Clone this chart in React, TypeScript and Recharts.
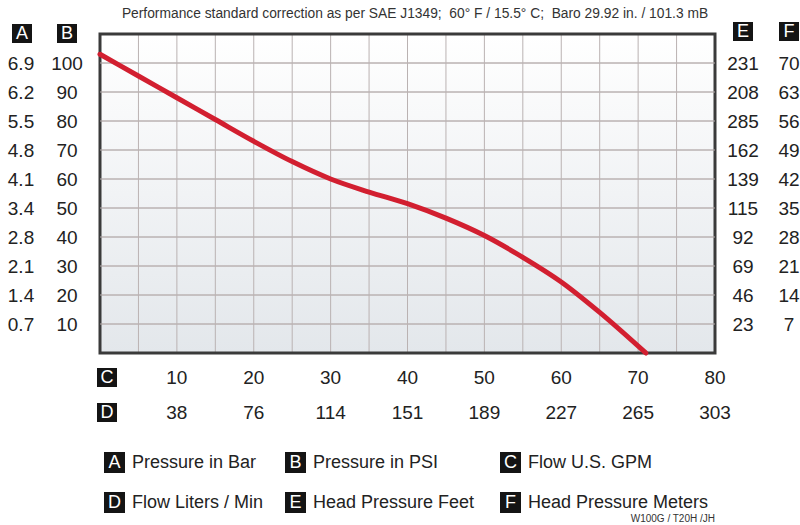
import { LineChart, Line, XAxis, YAxis, CartesianGrid, ReferenceArea, ReferenceLine } from "recharts";

// pump curve: flow (U.S. GPM) vs pressure (PSI)
const gpm = [0, 5, 10, 15, 20, 25, 30, 35, 40, 45, 50, 55, 60, 65, 71];
const psi = [103, 95.5, 88, 80.5, 73, 66, 60, 55.5, 51.5, 46.5, 40.5, 33, 24.5, 14, 0];

// tick labels
const gpmTicks = [10, 20, 30, 40, 50, 60, 70, 80];
const lpmLabels = ["38", "76", "114", "151", "189", "227", "265", "303"];
const psiTicks = [10, 20, 30, 40, 50, 60, 70, 80, 90, 100];
const barLabels = ["0.7", "1.4", "2.1", "2.8", "3.4", "4.1", "4.8", "5.5", "6.2", "6.9"];
const feetLabels = ["23", "46", "69", "92", "115", "139", "162", "285", "208", "231"];
const meterLabels = ["7", "14", "21", "28", "35", "42", "49", "56", "63", "70"];

// grid lines
const gridGpm = [0, 5, 10, 15, 20, 25, 30, 35, 40, 45, 50, 55, 60, 65, 70, 75, 80];
const gridPsi = [10, 20, 30, 40, 50, 60, 70, 80, 90, 100];

const legendItems = [
  { key: "A", text: "Pressure in Bar" },
  { key: "B", text: "Pressure in PSI" },
  { key: "C", text: "Flow U.S. GPM" },
  { key: "D", text: "Flow Liters / Min" },
  { key: "E", text: "Head Pressure Feet" },
  { key: "F", text: "Head Pressure Meters" },
];

const data = gpm.map((g, i) => ({ gpm: g, psi: psi[i] }));

const FONT = "Arial, 'Liberation Sans', sans-serif";
const TEXT = "#222";
const PLOT_W = 615;
const GRID = "#bab2b2";

const LetterBox = ({ letter, left, top, w = 20, h = 19 }: { letter: string; left: number; top: number; w?: number; h?: number }) => (
  <div
    style={{
      position: "absolute",
      left,
      top,
      width: w,
      height: h,
      background: "#141414",
      color: "#fff",
      fontFamily: FONT,
      fontSize: 18,
      lineHeight: `${h}px`,
      textAlign: "center",
    }}
  >
    {letter}
  </div>
);

const label = (x: number, y: number, v: string) => (
  <text x={x} y={y} textAnchor="middle" dominantBaseline="central" fontSize={19} fill={TEXT} fontFamily={FONT}>
    {v}
  </text>
);

const BottomTick = (props: any) => {
  const { x, y, index, payload } = props;
  return (
    <g>
      {label(x, y + 24, String(payload.value))}
      {label(x, y + 59, lpmLabels[index])}
    </g>
  );
};

// left axis draws A / B columns, and E / F columns on the far side of the plot
const SideTick = (props: any) => {
  const { x, y, index, payload } = props;
  return (
    <g>
      {label(x - 79, y, barLabels[index])}
      {label(x - 33, y, String(payload.value))}
      {label(x + PLOT_W + 28, y, feetLabels[index])}
      {label(x + PLOT_W + 74, y, meterLabels[index])}
    </g>
  );
};

export default function App() {
  return (
    <div style={{ position: "absolute", left: 0, top: 0, width: 800, height: 525, background: "#fff", overflow: "hidden" }}>
      {/* plot background */}
      <div
        style={{
          position: "absolute",
          left: 100,
          top: 34,
          width: 615,
          height: 319,
          background: "linear-gradient(180deg, #ffffff 0%, #e3e7eb 100%)",
        }}
      />
      <div style={{ position: "absolute", left: 0, top: 0 }}>
        <LineChart width={800} height={525} data={data} margin={{ top: 34, right: 85, bottom: 171, left: 99 }}>
          <CartesianGrid
            stroke={GRID}
            strokeWidth={1}
            fill="none"
            verticalValues={gridGpm}
            horizontalValues={gridPsi}
          />
          <XAxis
            dataKey="gpm"
            type="number"
            domain={[0, 80]}
            ticks={gpmTicks}
            height={1}
            axisLine={false}
            tickLine={false}
            tickSize={0}
            tickMargin={0}
            tick={<BottomTick />}
            interval={0}
          />
          <YAxis
            type="number"
            domain={[0, 110]}
            ticks={psiTicks}
            width={1}
            axisLine={false}
            tickLine={false}
            tickSize={0}
            tickMargin={0}
            tick={<SideTick />}
            interval={0}
          />
          {gridPsi.map((v) => (
            <ReferenceLine key={v} y={v} stroke={GRID} strokeWidth={1} />
          ))}
          <ReferenceArea x1={0} x2={80} y1={0} y2={110} fill="none" stroke="#3a3a3a" strokeWidth={3} />
          <Line
            dataKey="psi"
            type="monotone"
            stroke="#d21f30"
            strokeWidth={5}
            strokeLinecap="round"
            dot={false}
            isAnimationActive={false}
          />
        </LineChart>
      </div>

      <div
        style={{
          position: "absolute",
          left: 0,
          width: 830,
          top: 6,
          textAlign: "center",
          fontFamily: FONT,
          fontSize: 13.8,
          color: "#333",
        }}
      >
        Performance standard correction as per SAE J1349;&nbsp; 60° F / 15.5° C;&nbsp; Baro 29.92 in. / 101.3 mB
      </div>

      <LetterBox letter="A" left={12} top={24} />
      <LetterBox letter="B" left={57} top={24} />
      <LetterBox letter="E" left={733} top={22} />
      <LetterBox letter="F" left={779} top={22} />
      <LetterBox letter="C" left={97} top={368} />
      <LetterBox letter="D" left={97} top={403} />

      {legendItems.map((item, i) => {
        const col = i % 3;
        const row = Math.floor(i / 3);
        const left = [104, 285, 500][col];
        const top = [452, 492][row];
        return (
          <div key={item.key}>
            <LetterBox letter={item.key} left={left} top={top} w={21} h={21} />
            <div
              style={{
                position: "absolute",
                left: left + 28,
                top: top - 1,
                fontFamily: FONT,
                fontSize: 18,
                lineHeight: "23px",
                color: TEXT,
                whiteSpace: "nowrap",
              }}
            >
              {item.text}
            </div>
          </div>
        );
      })}

      <div
        style={{
          position: "absolute",
          right: 85,
          top: 513,
          fontFamily: FONT,
          fontSize: 10,
          color: "#333",
        }}
      >
        W100G / T20H /JH
      </div>
    </div>
  );
}
